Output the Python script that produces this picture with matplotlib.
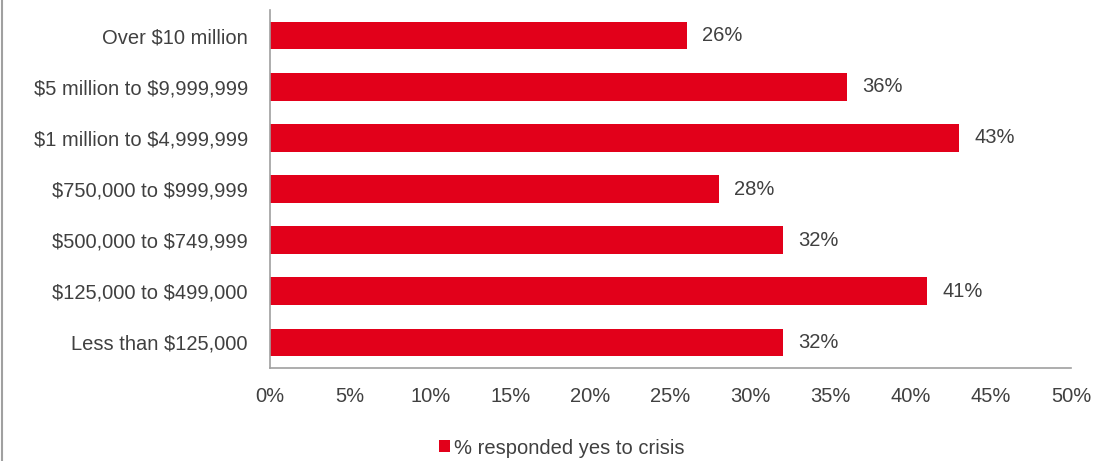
import matplotlib.pyplot as plt
from matplotlib.lines import Line2D
from matplotlib.patches import Patch

plt.rcParams['font.family'] = ['Liberation Sans', 'DejaVu Sans']
plt.rcParams['text.parse_math'] = False

categorias = ["Over $10 million", "$5 million to $9,999,999", "$1 million to $4,999,999",
              "$750,000 to $999,999", "$500,000 to $749,999", "$125,000 to $499,000",
              "Less than $125,000"]
valores = [26, 36, 43, 28, 32, 41, 32]
ticks_x = [0, 5, 10, 15, 20, 25, 30, 35, 40, 45, 50]

vermelho = '#E2001A'
cinza_txt = '#404040'
tam = 14.5

fig = plt.figure(figsize=(10.93, 4.61), dpi=100)
ax = fig.add_axes([270/1093, 1 - 368/461, (1071 - 270)/1093, (368 - 10)/461])

y_pos = list(range(len(categorias)))
ax.barh(y_pos, valores, height=0.54, color=vermelho)
ax.set_ylim(len(categorias) - 0.5, -0.5)
ax.set_xlim(0, 50)

for y, v in zip(y_pos, valores):
    ax.text(v + 0.95, y, f"{v}%", va='center', ha='left', fontsize=tam, color=cinza_txt)

ax.set_yticks(y_pos)
ax.set_yticklabels(categorias, fontsize=tam, color=cinza_txt)
ax.set_xticks(ticks_x)
ax.set_xticklabels([f"{t}%" for t in ticks_x], fontsize=tam, color=cinza_txt)
ax.tick_params(axis='both', length=0)
ax.tick_params(axis='y', pad=16)
ax.tick_params(axis='x', pad=14)

for s in ['top', 'right']:
    ax.spines[s].set_visible(False)
for s in ['left', 'bottom']:
    ax.spines[s].set_color('#A0A0A0')
    ax.spines[s].set_linewidth(1.2)

handle = Patch(facecolor=vermelho, edgecolor='none')
fig.legend([handle], ["% responded yes to crisis"], loc='center', bbox_to_anchor=(562/1093, 1 - 448/461),
           frameon=False, fontsize=tam, handlelength=0.55, handleheight=0.55, handletextpad=0.2,
           labelcolor=cinza_txt, borderpad=0)

# borda cinza à esquerda
fig.add_artist(Line2D([1.5/1093, 1.5/1093], [0, 1], color='#A0A0A0', linewidth=1.5))

plt.savefig("out.png", dpi=100)
